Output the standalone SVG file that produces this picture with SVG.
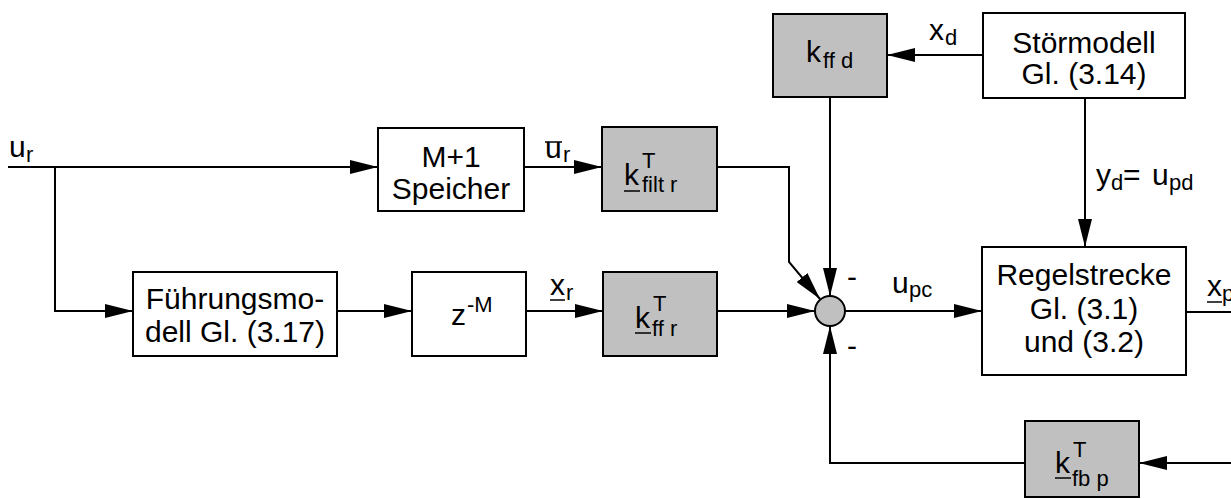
<svg xmlns="http://www.w3.org/2000/svg" width="1231" height="499" viewBox="0 0 1231 499">
<style>
.box{fill:#fff;stroke:#000;stroke-width:2}
.gbox{fill:#c0c0c0;stroke:#000;stroke-width:2}
.ln{fill:none;stroke:#000;stroke-width:2}
.ar{fill:none;stroke:#000;stroke-width:2;marker-end:url(#ah)}
text{font-family:"Liberation Sans",Arial,sans-serif;fill:#000}
.t{font-size:30px}
.c{text-anchor:middle}
.s{font-size:22px}
.ul{stroke:#000;stroke-width:1.5}
</style>
<defs>
<marker id="ah" markerUnits="userSpaceOnUse" markerWidth="28" markerHeight="14" refX="28" refY="7" orient="auto">
<path d="M0,0 L28,7 L0,14 z" fill="#000"/>
</marker>
</defs>
<rect width="1231" height="499" fill="#fff"/>
<g id="connectors">
<path class="ar" d="M8,167 H378"/>
<path class="ar" d="M55,167 V311 H133"/>
<path class="ar" d="M524,167 H602"/>
<path class="ar" d="M337,311 H412"/>
<path class="ar" d="M526,311 H603"/>
<path class="ar" d="M717,311 H815"/>
<path class="ar" d="M717,167 H789 V262 L820,299"/>
<path class="ar" d="M830,97 V296"/>
<path class="ar" d="M983,55 H887"/>
<path class="ar" d="M1085,98 V247"/>
<path class="ar" d="M845,311 H982"/>
<path class="ln" d="M1186,312 H1231"/>
<path class="ar" d="M1231,463 H1139"/>
<path class="ar" d="M1025,463 H830 V326"/>
</g>
<g id="labels">
<text class="t" x="9" y="157">u</text><text class="s" x="26" y="162">r</text>
<text class="t" x="545" y="158">u</text><text class="s" x="563" y="162">r</text>
<line class="ul" x1="545" y1="142" x2="562" y2="142"/>
<text class="t" x="550" y="295">x</text><text class="s" x="566" y="300">r</text>
<line class="ul" x1="550" y1="300" x2="565" y2="300"/>
<text class="t" x="929" y="40">x</text><text class="s" x="945" y="45">d</text>
<text class="t" x="1096" y="185">y</text><text class="s" x="1111" y="190">d</text>
<text class="t" x="1123" y="185">=</text>
<text class="t" x="1152" y="185">u</text><text class="s" x="1169" y="190">pd</text>
<text class="t" x="892" y="293">u</text><text class="s" x="909" y="297">pc</text>
<text class="t" x="1207" y="296">x</text><text class="s" x="1222" y="301">p</text>
<line class="ul" x1="1207" y1="302" x2="1222" y2="302"/>
<text class="t" x="847" y="287">-</text>
<text class="t" x="847" y="356">-</text>
</g>
<g id="speicher">
<rect class="box" x="378" y="128" width="146" height="83"/>
<text class="t c" x="451" y="167">M+1</text>
<text class="t c" x="451" y="199">Speicher</text>
</g>
<g id="kfiltr">
<rect class="gbox" x="602" y="127" width="115" height="84"/>
<text class="t" x="624" y="185">k</text>
<line class="ul" x1="624" y1="191" x2="640" y2="191"/>
<text class="s" x="642" y="168">T</text>
<text class="s" x="642" y="192">filt r</text>
</g>
<g id="fuehrungsmodell">
<rect class="box" x="133" y="272" width="204" height="84"/>
<text class="t c" x="235" y="309">Führungsmo-</text>
<text class="t c" x="235" y="342">dell Gl. (3.17)</text>
</g>
<g id="zm">
<rect class="box" x="412" y="272" width="114" height="84"/>
<text class="t" x="451" y="325">z</text>
<text class="s" x="467" y="312">-M</text>
</g>
<g id="kffr">
<rect class="gbox" x="603" y="272" width="114" height="84"/>
<text class="t" x="635" y="328">k</text>
<line class="ul" x1="635" y1="333" x2="651" y2="333"/>
<text class="s" x="653" y="311">T</text>
<text class="s" x="652" y="336">ff r</text>
</g>
<g id="kffd">
<rect class="gbox" x="773" y="14" width="114" height="83"/>
<text class="t" x="806" y="62">k</text>
<text class="s" x="823" y="68">ff d</text>
</g>
<g id="stoermodell">
<rect class="box" x="983" y="13" width="202" height="85"/>
<text class="t c" x="1084" y="53">Störmodell</text>
<text class="t c" x="1084" y="84">Gl. (3.14)</text>
</g>
<g id="summation">
<circle cx="830" cy="311" r="15" fill="#c0c0c0" stroke="#000" stroke-width="2"/>
</g>
<g id="regelstrecke">
<rect class="box" x="982" y="247" width="204" height="128"/>
<text class="t c" x="1084" y="285">Regelstrecke</text>
<text class="t c" x="1084" y="319">Gl. (3.1)</text>
<text class="t c" x="1084" y="352">und (3.2)</text>
</g>
<g id="kfbp">
<rect class="gbox" x="1025" y="421" width="114" height="76"/>
<text class="t" x="1055" y="473">k</text>
<line class="ul" x1="1055" y1="478" x2="1071" y2="478"/>
<text class="s" x="1073" y="457">T</text>
<text class="s" x="1072" y="486">fb p</text>
</g>
</svg>
